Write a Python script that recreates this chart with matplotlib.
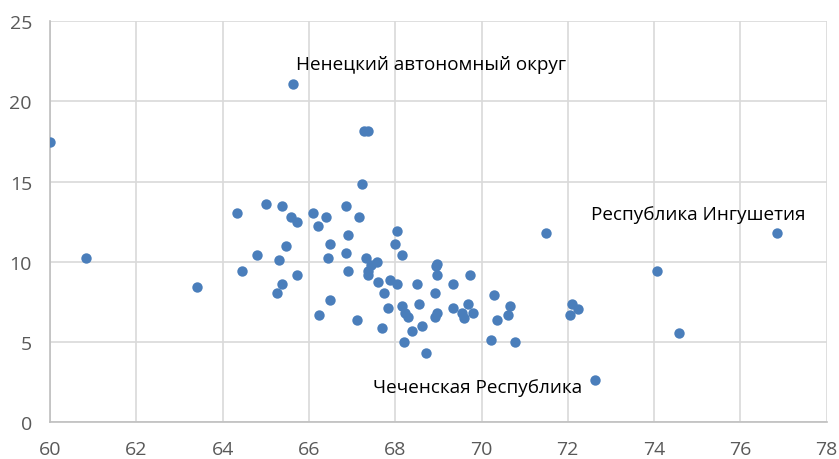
import matplotlib
matplotlib.use("Agg")
import matplotlib.pyplot as plt

life_expectancy = [
    60.01, 60.84, 63.41, 64.34, 64.44, 64.80, 65.01, 65.31, 65.47, 65.37,
    65.27, 65.37, 65.58, 65.73, 65.62, 65.73, 66.09, 66.20, 66.39, 66.85,
    67.16, 67.22, 67.28, 67.37, 66.91, 66.50, 66.45, 66.86, 66.91, 66.50,
    66.24, 67.12, 67.32, 67.57, 67.45, 67.37, 67.37, 67.59, 67.74, 67.84,
    67.69, 67.88, 68.05, 67.99, 68.05, 68.15, 68.15, 68.22, 68.30, 68.20,
    68.40, 68.51, 68.56, 68.61, 68.71, 68.94, 68.98, 68.97, 68.92, 68.92,
    68.98, 69.33, 69.33, 69.74, 69.54, 69.59, 69.69, 69.80, 70.30, 70.67,
    70.61, 70.36, 70.21, 70.77, 71.49, 72.10, 72.23, 72.06, 72.62, 74.06,
    74.58, 76.84,
]
rate = [
    17.46, 10.26, 8.45, 13.04, 9.45, 10.42, 13.58, 10.12, 10.97, 8.62,
    8.06, 13.46, 12.77, 12.50, 21.06, 9.16, 13.04, 12.23, 12.77, 13.46,
    12.77, 14.84, 18.15, 18.15, 11.66, 11.10, 10.26, 10.55, 9.44, 7.64,
    6.67, 6.39, 10.26, 9.99, 9.83, 9.44, 9.16, 8.75, 8.06, 7.09,
    5.85, 8.88, 8.61, 11.09, 11.92, 10.40, 7.23, 6.80, 6.53, 5.00,
    5.69, 8.60, 7.36, 5.98, 4.32, 9.72, 9.86, 9.16, 8.06, 6.53,
    6.81, 8.61, 7.09, 9.16, 6.82, 6.52, 7.37, 6.80, 7.91, 7.23,
    6.67, 6.39, 5.15, 5.00, 11.80, 7.37, 7.08, 6.67, 2.66, 9.45,
    5.56, 11.80,
]

label_texts = ["Ненецкий автономный округ", "Республика Ингушетия", "Чеченская Республика"]
label_x = [65.70, 72.54, 67.49]
label_y = [22.34, 12.98, 2.20]

x_ticks = list(range(60, 79, 2))
y_ticks = list(range(0, 26, 5))

plt.rcParams['font.family'] = ['Open Sans', 'DejaVu Sans']

fig = plt.figure(figsize=(8.39, 4.60), dpi=100)
ax = fig.add_axes([50 / 839, 1 - 423.3 / 460, 776.7 / 839, 401.3 / 460])

ax.scatter(life_expectancy, rate, s=56, color='#4A7EBB', linewidths=0, zorder=3)

for t, x, y in zip(label_texts, label_x, label_y):
    ax.text(x, y, t, ha='left', va='center', fontsize=13.6, color='black', zorder=4)

ax.set_xlim(60, 78)
ax.set_ylim(0, 25)
ax.set_xticks(x_ticks)
ax.set_yticks(y_ticks)
ax.grid(True, color='#D9D9D9', linewidth=1.2, zorder=0)
ax.set_axisbelow(True)
for side in ['top', 'right']:
    ax.spines[side].set_visible(False)
for side in ['left', 'bottom']:
    ax.spines[side].set_color('#BFBFBF')
    ax.spines[side].set_linewidth(1.2)
ax.tick_params(axis='both', length=0, labelsize=14, labelcolor='#595959')
ax.tick_params(axis='x', pad=13)
ax.tick_params(axis='y', pad=13)

fig.savefig('out.png', dpi=100)
